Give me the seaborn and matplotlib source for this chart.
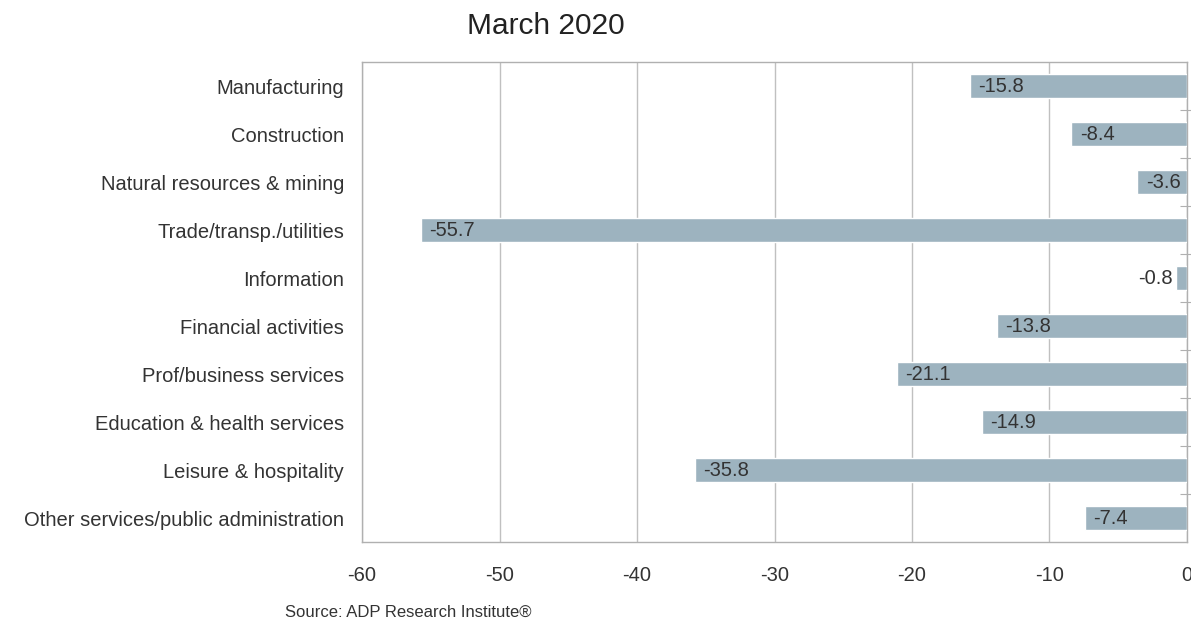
import numpy as np
import pandas as pd
import matplotlib.pyplot as plt
import seaborn as sns

sectors = ['Manufacturing', 'Construction', 'Natural resources & mining',
           'Trade/transp./utilities', 'Information', 'Financial activities',
           'Prof/business services', 'Education & health services',
           'Leisure & hospitality', 'Other services/public administration']
change = [-15.8, -8.4, -3.6, -55.7, -0.8, -13.8, -21.1, -14.9, -35.8, -7.4]

df = pd.DataFrame({'sector': sectors, 'change': change})

sns.set_style('white')
plt.rcParams['font.family'] = ['Liberation Sans', 'DejaVu Sans']
plt.rcParams['axes.unicode_minus'] = False

fig = plt.figure(figsize=(11.91, 6.22), dpi=100)
ax = fig.add_axes([0.304, 0.1286, 0.6926, 0.7717])

sns.barplot(data=df, x='change', y='sector', color='#9db3bf', saturation=1,
            width=0.48, ax=ax, zorder=3)

ax.set_xlim(-60, 0)
ax.set_xticks(np.arange(-60, 1, 10))
ax.xaxis.grid(True, color='#c0c0c0', linewidth=1, zorder=0)
ax.set_xlabel('')
ax.set_ylabel('')

for side in ['left', 'bottom', 'right', 'top']:
    ax.spines[side].set_color('#b0b0b0')
    ax.spines[side].set_linewidth(1)

ax.tick_params(axis='x', labelsize=14.5, colors='#333333', length=6,
               color='#b0b0b0', pad=11)
ax.tick_params(axis='y', labelsize=14.5, colors='#333333', length=0, pad=13)

# right-hand ticks between categories
ax2 = ax.twinx()
ax2.set_ylim(ax.get_ylim())
ax2.set_yticks(np.arange(len(sectors) - 1) + 0.5)
ax2.set_yticklabels([])
ax2.tick_params(axis='y', direction='inout', length=10, color='#b0b0b0')
for side in ['top', 'left', 'bottom', 'right']:
    ax2.spines[side].set_visible(False)

for i, v in enumerate(change):
    if v > -2:
        ax.text(v - 0.2, i, f'{v}', va='center', ha='right', fontsize=14.5,
                color='#333333', zorder=4)
    else:
        ax.text(v + 0.6, i, f'{v}', va='center', ha='left', fontsize=14.5,
                color='#333333', zorder=4)

fig.text(0.458, 0.958, 'March 2020', ha='center', va='center', fontsize=21.5,
         color='#222222')
fig.text(0.239, 0.016, 'Source: ADP Research Institute®', ha='left',
         va='center', fontsize=12, color='#333333')

plt.savefig('out.png', dpi=100)
